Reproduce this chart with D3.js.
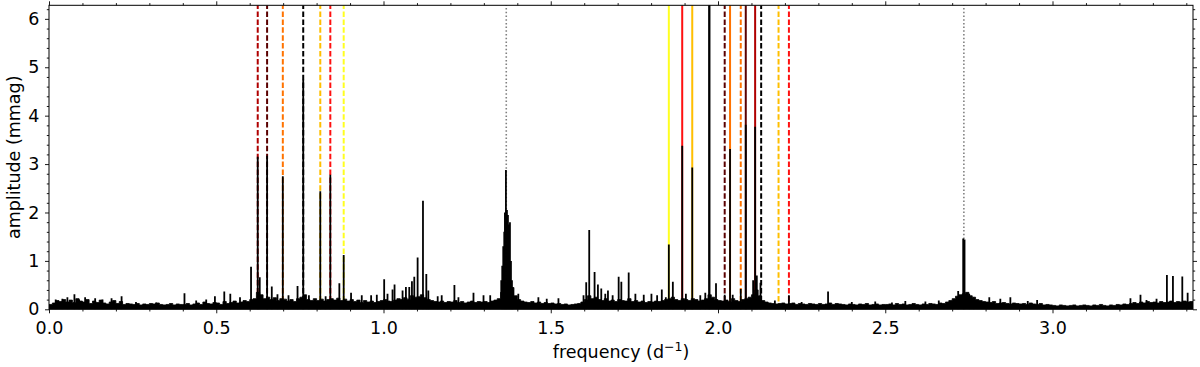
<!DOCTYPE html>
<html><head><meta charset="utf-8">
<script src="https://cdn.jsdelivr.net/npm/d3@7"></script>
<style>body{margin:0;background:#fff}svg{display:block}text{font-family:"DejaVu Sans",sans-serif}</style>
</head><body><svg id="c" width="1200" height="367"></svg>
<script>
// ---- data ----
const xTicks = [0.0, 0.5, 1.0, 1.5, 2.0, 2.5, 3.0];
const yTicks = [0, 1, 2, 3, 4, 5, 6];
// noise floor, sampled every 0.01 d^-1 starting at 0.00
const floorStart = 0.0, floorStep = 0.01;
const floorAmp = [
0.10,0.13,0.18,0.16,0.20,0.15,0.19,0.14,0.22,0.17,
0.15,0.20,0.12,0.17,0.14,0.19,0.13,0.11,0.15,0.18,
0.12,0.16,0.10,0.12,0.11,0.10,0.12,0.09,0.11,0.10,
0.12,0.11,0.13,0.10,0.09,0.10,0.12,0.09,0.11,0.10,
0.10,0.12,0.09,0.11,0.13,0.10,0.15,0.12,0.11,0.14,
0.13,0.10,0.16,0.12,0.14,0.17,0.13,0.15,0.18,0.16,
0.20,0.22,0.35,0.30,0.22,0.25,0.20,0.24,0.18,0.22,
0.21,0.17,0.20,0.16,0.22,0.25,0.30,0.20,0.18,0.22,
0.18,0.21,0.17,0.20,0.22,0.19,0.23,0.18,0.21,0.17,
0.20,0.16,0.19,0.14,0.18,0.15,0.17,0.14,0.16,0.18,
0.20,0.17,0.16,0.19,0.22,0.20,0.24,0.21,0.28,0.25,
0.26,0.30,0.24,0.20,0.18,0.16,0.15,0.17,0.14,0.16,
0.15,0.18,0.14,0.16,0.13,0.15,0.17,0.14,0.16,0.15,
0.16,0.14,0.17,0.19,0.22,0.35,0.55,0.60,0.45,0.28,
0.20,0.17,0.15,0.14,0.16,0.13,0.15,0.12,0.14,0.12,
0.13,0.11,0.12,0.10,0.11,0.09,0.10,0.11,0.12,0.15,
0.20,0.28,0.22,0.25,0.20,0.18,0.22,0.17,0.19,0.16,
0.20,0.18,0.17,0.22,0.16,0.18,0.15,0.17,0.14,0.16,
0.15,0.17,0.16,0.18,0.20,0.22,0.25,0.20,0.18,0.22,
0.20,0.18,0.22,0.20,0.17,0.19,0.22,0.30,0.25,0.20,
0.18,0.17,0.19,0.16,0.22,0.18,0.16,0.20,0.22,0.25,
0.30,0.40,0.28,0.18,0.15,0.13,0.12,0.11,0.12,0.13,
0.11,0.12,0.13,0.10,0.12,0.11,0.10,0.12,0.11,0.10,
0.12,0.10,0.11,0.13,0.10,0.12,0.11,0.10,0.09,0.11,
0.10,0.09,0.11,0.10,0.12,0.09,0.10,0.11,0.09,0.10,
0.10,0.11,0.09,0.12,0.10,0.11,0.09,0.10,0.12,0.10,
0.09,0.11,0.10,0.12,0.11,0.10,0.13,0.12,0.15,0.18,
0.22,0.27,0.30,0.32,0.35,0.28,0.25,0.20,0.18,0.16,
0.15,0.14,0.16,0.12,0.13,0.14,0.12,0.11,0.13,0.12,
0.11,0.12,0.10,0.13,0.11,0.10,0.12,0.09,0.10,0.09,
0.08,0.07,0.09,0.08,0.07,0.08,0.09,0.07,0.08,0.09,
0.08,0.07,0.09,0.08,0.10,0.08,0.07,0.09,0.08,0.10,
0.09,0.11,0.10,0.12,0.14,0.12,0.15,0.13,0.16,0.14,
0.15,0.13,0.16,0.14,0.15,0.17,0.14,0.16,0.15,0.17,
0.15,0.16,0.14];
// peaks / spikes in the amplitude spectrum
const peakFreq = [
0.020,0.040,0.055,0.076,0.090,0.108,0.138,0.160,0.187,0.217,0.260,0.320,0.405,0.440,0.470,0.496,0.524,0.542,0.571,
0.604,0.624,0.630,0.652,0.666,0.683,0.699,0.716,0.743,0.760,0.777,0.811,0.827,0.841,0.868,0.881,0.903,0.935,0.963,0.980,
1.002,1.012,1.027,1.033,1.057,1.067,1.077,1.085,1.092,1.102,1.118,1.128,1.134,1.162,1.174,1.212,1.224,1.269,1.299,1.319,
1.352,1.355,1.358,1.361,1.363,1.366,1.369,1.372,1.375,1.378,1.381,1.384,1.387,1.403,1.463,1.488,1.523,
1.598,1.606,1.615,1.631,1.641,1.651,1.663,1.671,1.685,1.703,1.711,1.733,1.753,1.778,1.801,1.818,1.832,1.844,
1.853,1.865,1.893,1.904,1.923,1.947,1.962,1.974,1.994,2.020,2.036,2.044,2.068,2.083,2.105,2.111,2.116,2.127,
2.170,2.212,2.250,2.329,2.400,2.470,2.520,2.560,2.620,2.660,2.718,2.733,2.737,2.751,2.764,2.811,2.844,2.874,2.926,2.954,
3.233,3.263,3.281,3.311,3.342,3.360,3.388,3.404];
const peakAmp = [
0.20,0.22,0.25,0.31,0.20,0.25,0.23,0.20,0.23,0.27,0.15,0.14,0.33,0.18,0.20,0.27,0.37,0.32,0.25,
0.88,3.15,0.66,3.17,0.47,0.31,2.75,0.29,0.48,4.74,0.29,2.44,0.27,2.78,0.54,1.12,0.34,0.29,0.29,0.30,
0.62,0.32,0.41,0.51,0.39,0.46,0.46,0.58,0.67,1.07,2.24,0.73,0.39,0.27,0.29,0.50,0.25,0.34,0.29,0.29,
0.60,0.90,1.30,1.60,2.00,2.88,2.05,1.95,1.75,1.80,1.00,0.60,0.40,0.32,0.25,0.22,0.23,
0.29,0.56,1.64,0.77,0.51,0.43,0.32,0.39,0.29,0.67,0.57,0.76,0.32,0.30,0.32,0.29,0.41,0.25,
1.34,0.57,3.38,0.32,2.93,0.29,0.34,6.40,0.54,0.30,3.31,0.30,0.42,3.81,0.60,3.77,0.70,0.55,
0.18,0.29,0.15,0.37,0.15,0.16,0.14,0.17,0.16,0.18,0.38,1.46,1.44,0.32,0.25,0.25,0.22,0.25,0.17,0.19,
0.23,0.30,0.19,0.22,0.71,0.69,0.68,0.34];
// marked frequencies (vertical lines)
const markFreq  = [0.624,0.652,0.699,0.760,0.811,0.841,0.881,1.853,1.893,1.923,1.974,2.020,2.036,2.068,2.083,2.111,2.129,2.181,2.212];
const markColor = ["#b00000","#5a0000","#ff7300","#000000","#ffbf00","#ff1010","#ffff20","#ffff20","#ff1010","#ffbf00","#000000","#5a0000","#ff7300","#ff7300","#5a0000","#b00000","#000000","#ffbf00","#ff1010"];
const markStyle = ["dashed","dashed","dashed","dashed","dashed","dashed","dashed","solid","solid","solid","solid","dashed","solid","dashed","solid","solid","dashed","dashed","dashed"];
const harmFreq = [1.367, 2.735];

// ---- layout ----
const L = 49, R = 1193, T = 5.3, B = 309.3;
const FS = 17.5;
const x = d3.scaleLinear().domain([0, 3.42]).range([L, R]);
const y = d3.scaleLinear().domain([0, 6.28]).range([B, T]);
const svg = d3.select("#c");
svg.append("defs").append("clipPath").attr("id","clip")
  .append("rect").attr("x",L).attr("y",T).attr("width",R-L).attr("height",B-T);
const plot = svg.append("g").attr("clip-path","url(#clip)");

// vertical marker lines
plot.selectAll("line.mark").data(markFreq).enter().append("line")
  .attr("x1", d=>x(d)).attr("x2", d=>x(d)).attr("y1", B).attr("y2", T)
  .attr("stroke", (d,i)=>markColor[i]).attr("stroke-width", 2)
  .attr("stroke-dasharray", (d,i)=> markStyle[i]==="dashed" ? "5.5,2.4" : null);
plot.selectAll("line.harm").data(harmFreq).enter().append("line")
  .attr("x1", d=>x(d)).attr("x2", d=>x(d)).attr("y1", B).attr("y2", T)
  .attr("stroke", "#808080").attr("stroke-width", 1.6).attr("stroke-dasharray", "1.5,2.2");

// spectrum: noise floor area + peaks
const floorPts = floorAmp.map((a,i)=>[floorStart + i*floorStep, a]);
plot.append("path").datum(floorPts)
  .attr("d", d3.area().x(d=>x(d[0])).y0(y(0)).y1(d=>y(d[1])).curve(d3.curveStepAfter))
  .attr("fill","#000").attr("stroke","#000").attr("stroke-width",0.8);
plot.selectAll("line.peak").data(peakFreq).enter().append("line")
  .attr("x1", d=>x(d)).attr("x2", d=>x(d)).attr("y1", y(0)).attr("y2", (d,i)=>y(peakAmp[i]))
  .attr("stroke","#000").attr("stroke-width",1.8);

// axes
const xMinor = d3.range(0.1,3.42,0.1).filter(v=>Math.abs(v*2-Math.round(v*2))>1e-6);
const yMinor = d3.range(0.2,6.28,0.2).filter(v=>Math.abs(v-Math.round(v))>1e-6);
const gb = svg.append("g").attr("transform",`translate(0,${B})`)
  .call(d3.axisBottom(x).tickValues(xTicks).tickFormat(d3.format(".1f")).tickSizeOuter(0).tickSize(4).tickPadding(8));
const gbm = svg.append("g").attr("transform",`translate(0,${B})`)
  .call(d3.axisBottom(x).tickValues(xMinor).tickFormat("").tickSizeOuter(0).tickSize(2.2));
const gt = svg.append("g").attr("transform",`translate(0,${T})`)
  .call(d3.axisTop(x).tickValues(xTicks).tickFormat("").tickSizeOuter(0).tickSize(4));
const gtm = svg.append("g").attr("transform",`translate(0,${T})`)
  .call(d3.axisTop(x).tickValues(xMinor).tickFormat("").tickSizeOuter(0).tickSize(2.2));
const gl = svg.append("g").attr("transform",`translate(${L},0)`)
  .call(d3.axisLeft(y).tickValues(yTicks).tickFormat(d3.format("d")).tickSizeOuter(0).tickSize(4).tickPadding(5.5));
const glm = svg.append("g").attr("transform",`translate(${L},0)`)
  .call(d3.axisLeft(y).tickValues(yMinor).tickFormat("").tickSizeOuter(0).tickSize(2.2));
const gr = svg.append("g").attr("transform",`translate(${R},0)`)
  .call(d3.axisRight(y).tickValues(yTicks).tickFormat("").tickSizeOuter(0).tickSize(4));
const grm = svg.append("g").attr("transform",`translate(${R},0)`)
  .call(d3.axisRight(y).tickValues(yMinor).tickFormat("").tickSizeOuter(0).tickSize(2.2));
[gb,gbm,gt,gtm,gl,glm,gr,grm].forEach(g=>{
  g.select(".domain").remove();
  g.selectAll("line").attr("stroke","#000").attr("stroke-width",0.9);
  g.selectAll("text").attr("font-size",FS).attr("fill","#000").attr("font-family","DejaVu Sans, sans-serif");
});
svg.append("rect").attr("x",L).attr("y",T).attr("width",R-L).attr("height",B-T)
  .attr("fill","none").attr("stroke","#000").attr("stroke-width",1);

// axis labels
const xl = svg.append("text").attr("x",(L+R)/2).attr("y",358).attr("text-anchor","middle")
  .attr("font-size",FS).attr("fill","#000");
xl.append("tspan").text("frequency (d");
xl.append("tspan").attr("dy",-7).attr("font-size",12.5).text("\u22121");
xl.append("tspan").attr("dy",7).text(")");
svg.append("text").attr("transform",`translate(20,${(T+B)/2}) rotate(-90)`).attr("text-anchor","middle")
  .attr("font-size",FS).attr("fill","#000").text("amplitude (mmag)");
</script></body></html>
